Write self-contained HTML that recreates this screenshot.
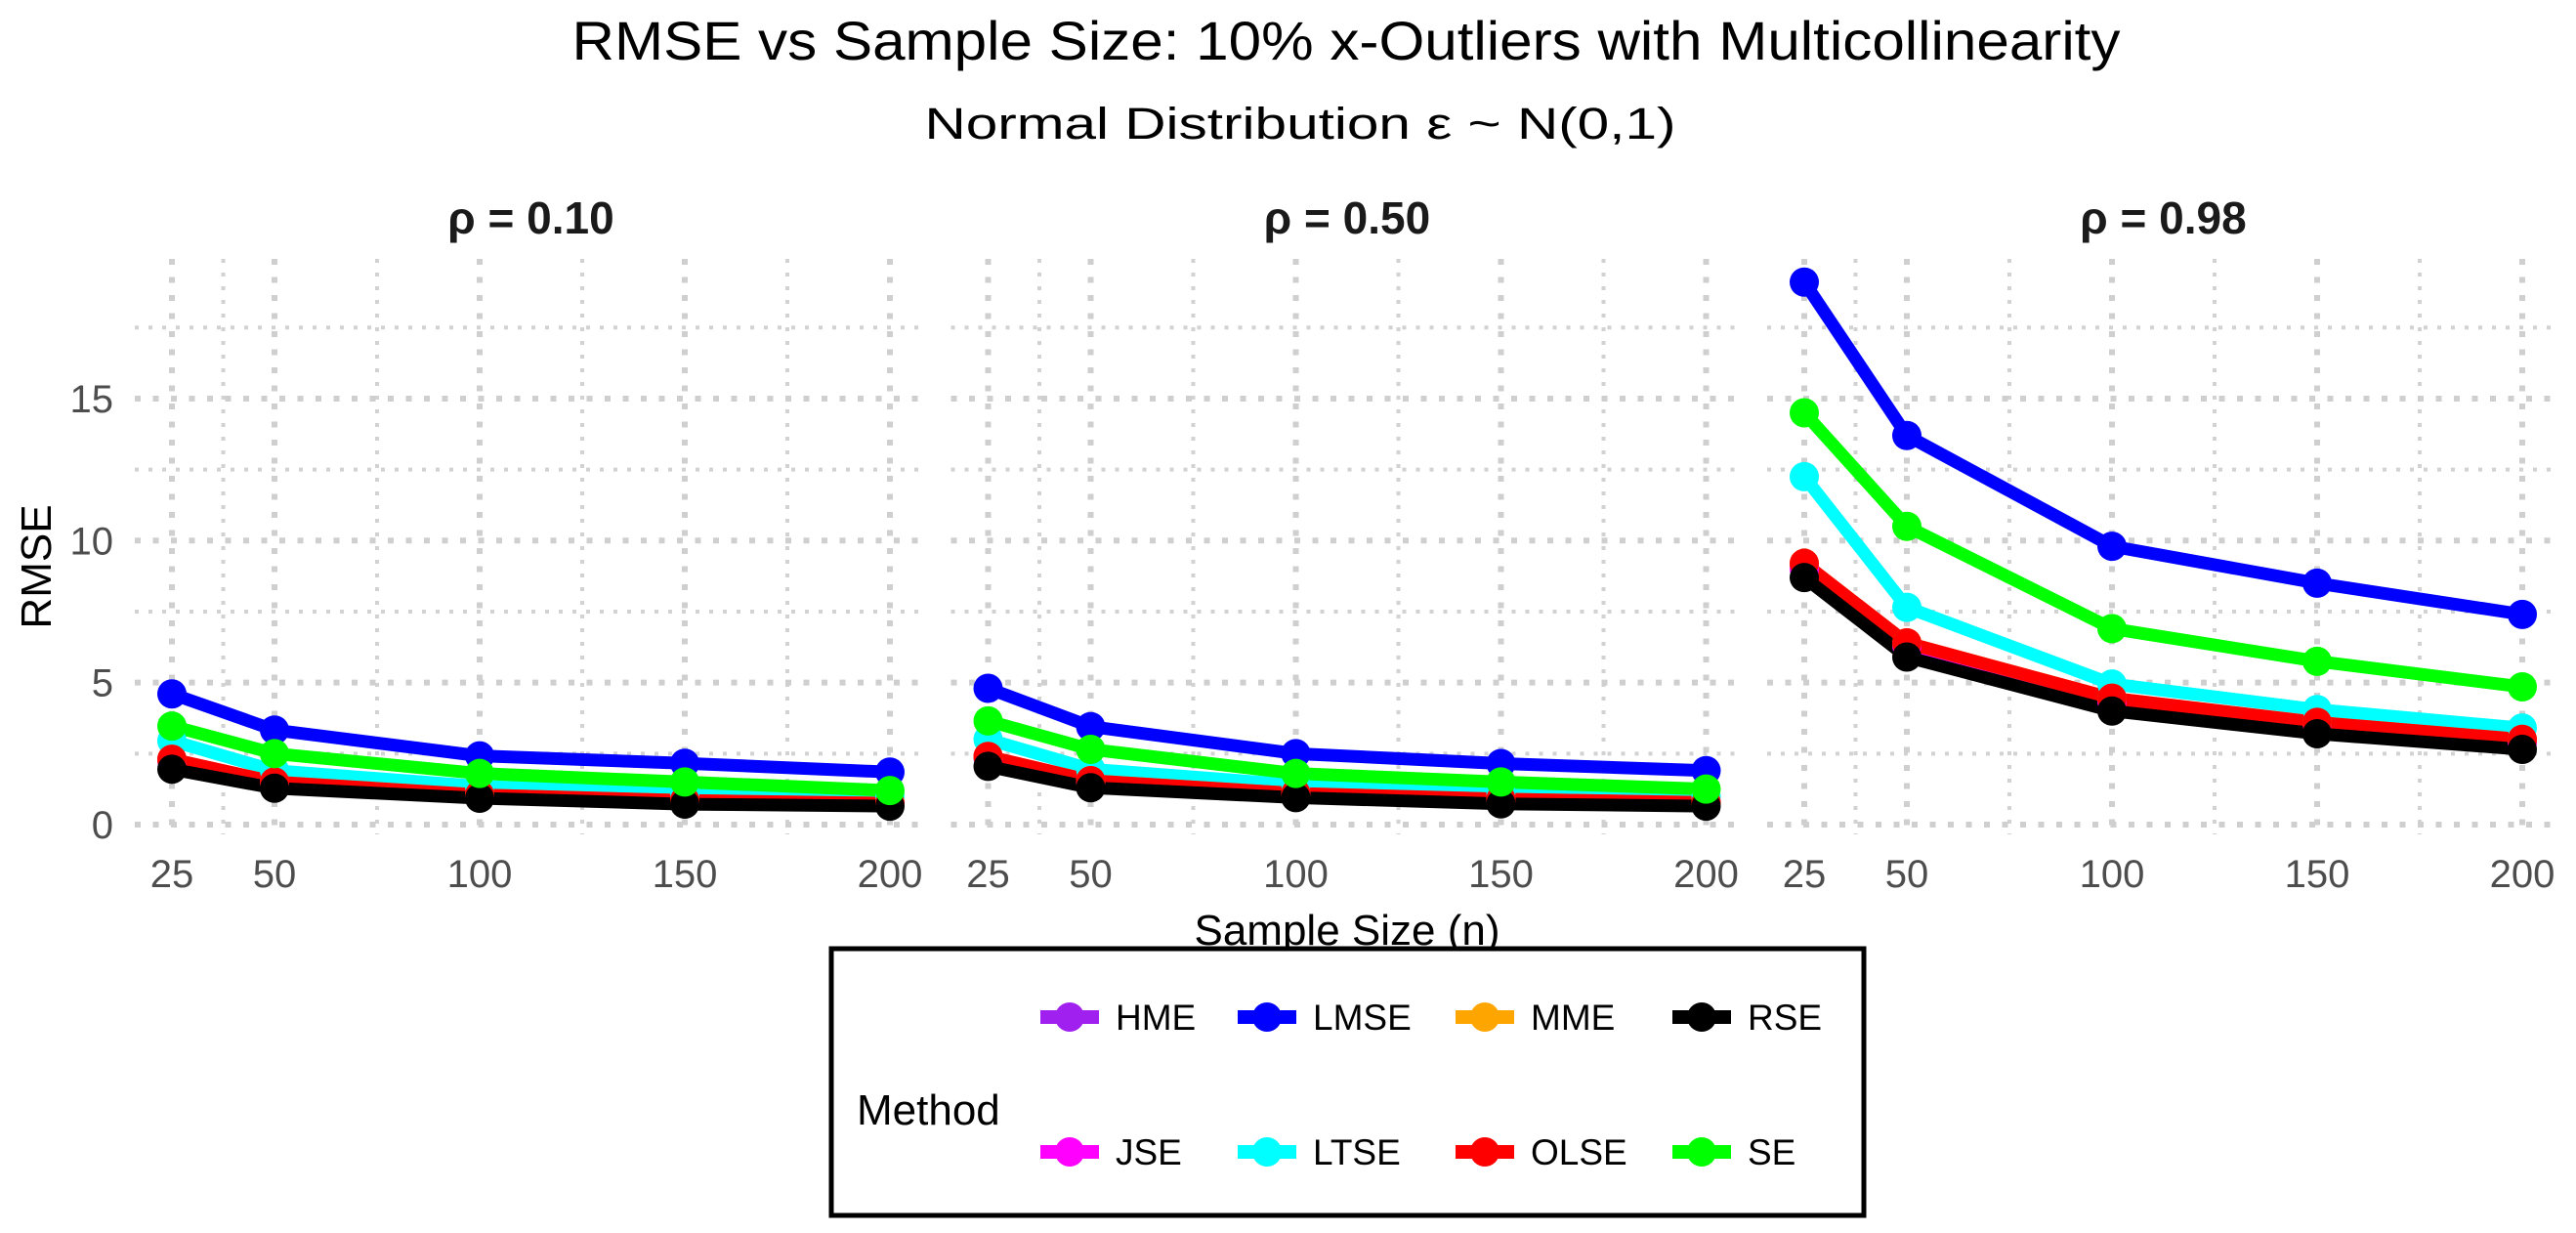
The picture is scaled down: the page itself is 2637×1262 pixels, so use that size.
<!DOCTYPE html>
<html><head><meta charset="utf-8"><style>
html,body{margin:0;padding:0;background:#fff;}
svg{display:block;font-family:"Liberation Sans",sans-serif;}
</style></head><body>
<svg id="chart" width="2637" height="1262" xmlns="http://www.w3.org/2000/svg">
<text x="1378" y="61" font-size="56" text-anchor="middle" textLength="1585" lengthAdjust="spacingAndGlyphs" fill="#000">RMSE vs Sample Size: 10% x-Outliers with Multicollinearity</text>
<text x="1331" y="142" font-size="45" text-anchor="middle" textLength="769" lengthAdjust="spacingAndGlyphs" fill="#000">Normal Distribution ε ~ N(0,1)</text>
<text transform="translate(52,580) rotate(-90)" font-size="44" text-anchor="middle" fill="#000">RMSE</text>
<text x="1379" y="967" font-size="44" text-anchor="middle" fill="#000">Sample Size (n)</text>
<g id="panels"></g>
<g id="legend"></g>
</svg>
<script>
const sampleSizes = [25, 50, 100, 150, 200];
const panelLabels = ["ρ = 0.10", "ρ = 0.50", "ρ = 0.98"];
const methods = ["HME", "JSE", "LMSE", "LTSE", "MME", "OLSE", "RSE", "SE"];
const methodColors = ["#A020F0", "#FF00FF", "#0000FF", "#00FFFF", "#FFA500", "#FF0000", "#000000", "#00FF00"];
const yTicks = [0, 5, 10, 15];
const yMinor = [2.5, 7.5, 12.5, 17.5];
const xMinor = [37.5, 75, 125, 175];
const rho010 = {
  HME: [2.3, 1.5, 1.05, 0.85, 0.75], JSE: [2.25, 1.48, 1.03, 0.83, 0.74],
  LMSE: [4.6, 3.33, 2.42, 2.16, 1.85], LTSE: [2.95, 1.9, 1.35, 1.1, 1.0],
  MME: [2.3, 1.5, 1.05, 0.85, 0.75], OLSE: [2.3, 1.5, 1.05, 0.85, 0.75],
  RSE: [1.95, 1.28, 0.93, 0.72, 0.65], SE: [3.47, 2.5, 1.8, 1.5, 1.2]
};
const rho050 = {
  HME: [2.4, 1.55, 1.1, 0.9, 0.78], JSE: [2.35, 1.52, 1.08, 0.88, 0.77],
  LMSE: [4.8, 3.45, 2.5, 2.15, 1.9], LTSE: [3.0, 1.95, 1.4, 1.15, 1.0],
  MME: [2.4, 1.55, 1.1, 0.9, 0.78], OLSE: [2.4, 1.55, 1.1, 0.9, 0.78],
  RSE: [2.05, 1.3, 0.95, 0.73, 0.65], SE: [3.65, 2.65, 1.8, 1.5, 1.25]
};
const rho098 = {
  HME: [9.1, 6.35, 4.4, 3.58, 2.95], JSE: [9.0, 6.3, 4.35, 3.55, 2.9],
  LMSE: [19.1, 13.7, 9.8, 8.5, 7.4], LTSE: [12.25, 7.65, 4.95, 4.05, 3.4],
  MME: [9.2, 6.4, 4.45, 3.6, 3.0], OLSE: [9.2, 6.4, 4.45, 3.6, 3.0],
  RSE: [8.7, 5.9, 4.0, 3.2, 2.65], SE: [14.5, 10.5, 6.9, 5.75, 4.85]
};
const panelData = [rho010, rho050, rho098];

const NS = "http://www.w3.org/2000/svg";
const PANEL_STEP = 835.5, X0 = 176, XU = 4.2, Y0 = 844, YU = 29.07;
const PTOP = 265, PBOT = 854;
function xs(p, n) { return X0 + p * PANEL_STEP + (n - 25) * XU; }
function ys(v) { return Y0 - v * YU; }
function mk(tag, attrs, parent) {
  const e = document.createElementNS(NS, tag);
  for (const k in attrs) e.setAttribute(k, attrs[k]);
  parent.appendChild(e);
  return e;
}
const panels = document.getElementById("panels");
panelData.forEach((d, p) => {
  const g = mk("g", {}, panels);
  
  
  const left = xs(p, 25) - 38, right = xs(p, 200) + 38;
  yMinor.forEach(v => {
    const l = mk("line", {x1: left, x2: right, y1: ys(v), y2: ys(v), stroke: "#d2d2d2", "stroke-width": 4, "stroke-dasharray": "4 10"}, g);
    
    
  });
  xMinor.forEach(n => {
    const l = mk("line", {x1: xs(p, n), x2: xs(p, n), y1: PTOP, y2: PBOT, stroke: "#d2d2d2", "stroke-width": 4, "stroke-dasharray": "4 10"}, g);
    
    
  });
  yTicks.forEach(v => {
    const l = mk("line", {x1: left, x2: right, y1: ys(v), y2: ys(v), stroke: "#cfcfcf", "stroke-width": 6, "stroke-dasharray": "6 12.5"}, g);
    
    
  });
  sampleSizes.forEach(n => {
    const l = mk("line", {x1: xs(p, n), x2: xs(p, n), y1: PTOP, y2: PBOT, stroke: "#cfcfcf", "stroke-width": 6, "stroke-dasharray": "6 12.5"}, g);
    
    
    const t = mk("text", {x: xs(p, n), y: 908, "font-size": 40, "text-anchor": "middle", fill: "#4d4d4d"}, g);
    t.textContent = n;
    
    
  });
  if (p === 0) {
    yTicks.forEach(v => {
      const t = mk("text", {x: 116, y: ys(v) + 14, "font-size": 40, "text-anchor": "end", fill: "#4d4d4d"}, g);
      t.textContent = v;
      
      
    });
  }
  const st = mk("text", {x: (left + right) / 2, y: 239, "font-size": 46, "font-weight": "bold", "text-anchor": "middle", fill: "#1a1a1a"}, g);
  st.textContent = panelLabels[p];
  
  
  methods.forEach((m, i) => {
    const pts = sampleSizes.map((n, j) => xs(p, n) + "," + ys(d[m][j])).join(" ");
    const pl = mk("polyline", {points: pts, fill: "none", stroke: methodColors[i], "stroke-width": 13, "stroke-linejoin": "round"}, g);
    
    
  });
  methods.forEach((m, i) => {
    sampleSizes.forEach((n, j) => {
      const c = mk("circle", {cx: xs(p, n), cy: ys(d[m][j]), r: 15, fill: methodColors[i]}, g);
      
      
    });
  });
});

const lg = document.getElementById("legend");
const box = mk("rect", {x: 851, y: 971, width: 1057, height: 273, fill: "#fff", stroke: "#000", "stroke-width": 5}, lg);


const lt = mk("text", {x: 877, y: 1151, "font-size": 44, fill: "#000"}, lg);
lt.textContent = "Method";


const legendOrder = ["HME", "LMSE", "MME", "RSE", "JSE", "LTSE", "OLSE", "SE"];
const colX = [1095, 1297, 1520, 1742];
const rowY = [1041, 1179];
legendOrder.forEach((m, k) => {
  const col = k % 4, row = Math.floor(k / 4);
  const cx = colX[col], cy = rowY[row];
  const color = methodColors[methods.indexOf(m)];
  const g = mk("g", {}, lg);
  
  
  mk("line", {x1: cx - 30, x2: cx + 30, y1: cy, y2: cy, stroke: color, "stroke-width": 14}, g);
  mk("circle", {cx: cx, cy: cy, r: 15, fill: color}, g);
  const t = mk("text", {x: cx + 47, y: cy + 13, "font-size": 37, fill: "#000"}, g);
  t.textContent = m;
});
</script>
</body></html>
